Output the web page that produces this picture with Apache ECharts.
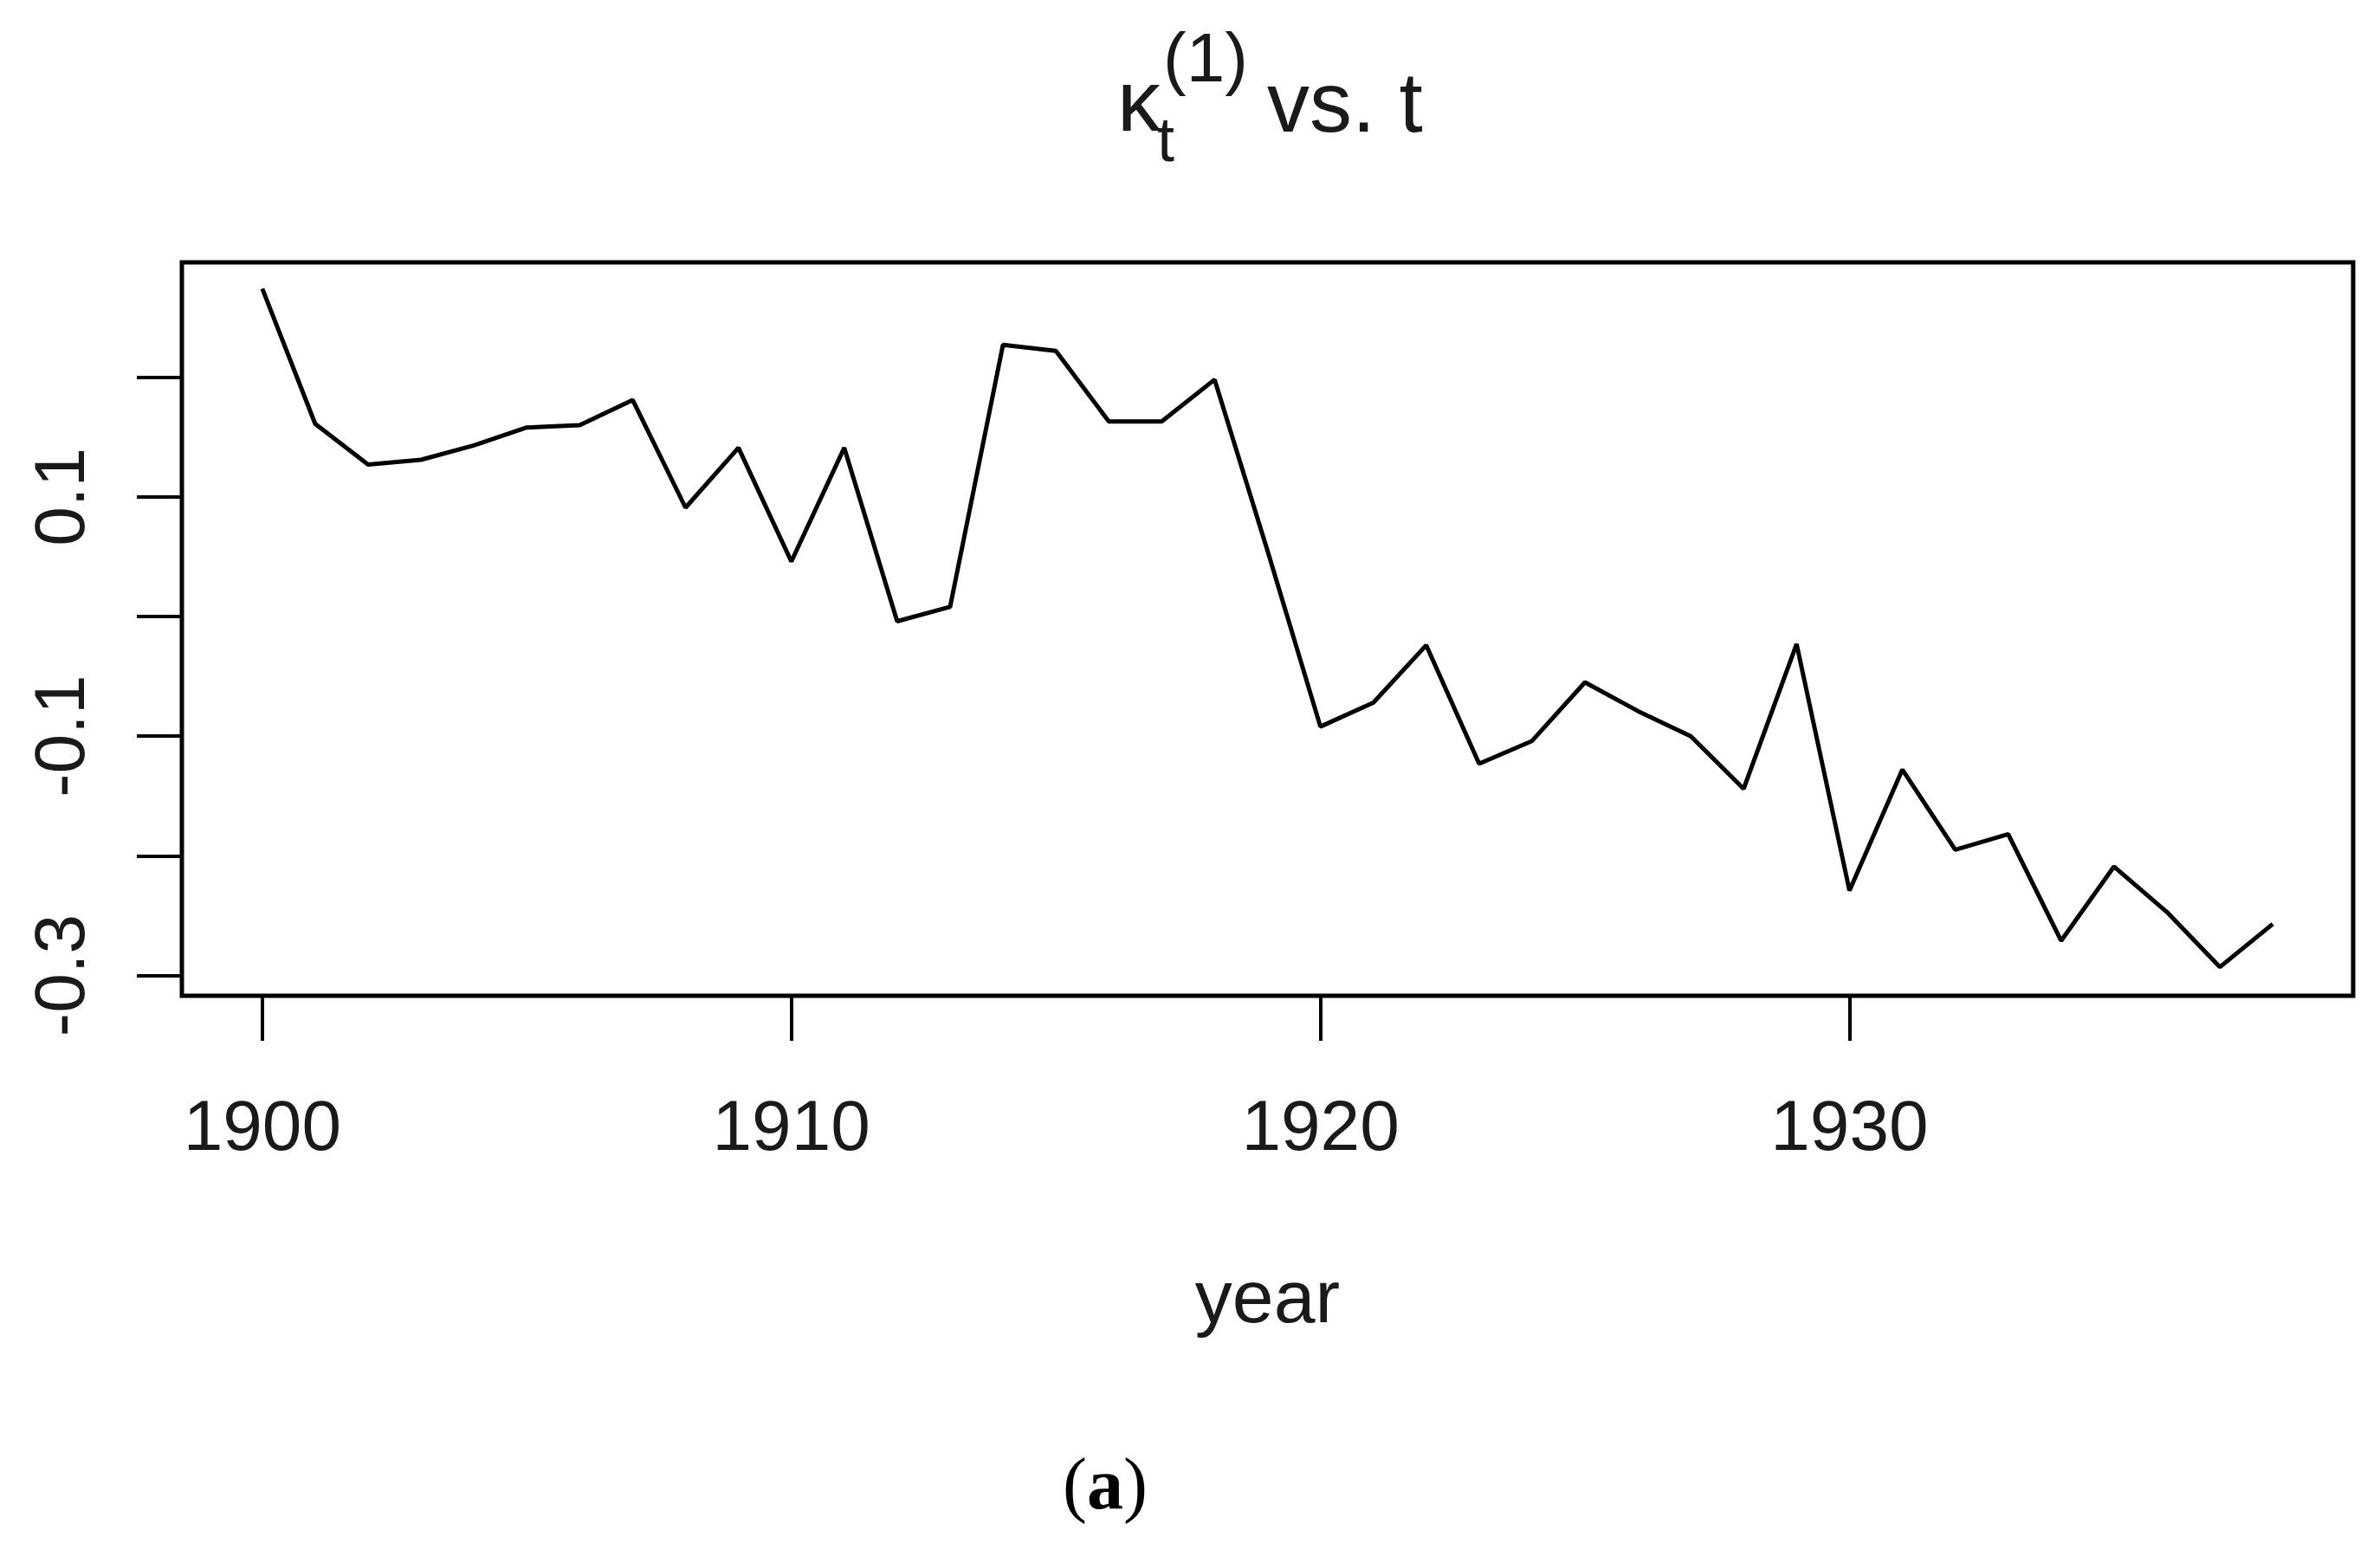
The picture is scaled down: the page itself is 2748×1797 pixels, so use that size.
<!DOCTYPE html>
<html>
<head>
<meta charset="utf-8">
<script src="https://cdn.jsdelivr.net/npm/echarts@6/dist/echarts.min.js"></script>
<style>
  html, body { margin: 0; padding: 0; background: #ffffff; }
  #chart { width: 2748px; height: 1797px; }
</style>
</head>
<body>
<div id="chart"></div>
<script>
// ---- data ----
const years = [1900, 1901, 1902, 1903, 1904, 1905, 1906, 1907, 1908, 1909,
               1910, 1911, 1912, 1913, 1914, 1915, 1916, 1917, 1918, 1919,
               1920, 1921, 1922, 1923, 1924, 1925, 1926, 1927, 1928, 1929,
               1930, 1931, 1932, 1933, 1934, 1935, 1936, 1937, 1938];
const kappa = [0.274, 0.161, 0.127, 0.131, 0.143, 0.158, 0.160, 0.181, 0.091, 0.141,
               0.046, 0.141, -0.004, 0.008, 0.227, 0.222, 0.163, 0.163, 0.198, 0.055,
               -0.092, -0.072, -0.024, -0.123, -0.104, -0.055, -0.079, -0.100, -0.144, -0.023,
               -0.229, -0.128, -0.195, -0.182, -0.271, -0.209, -0.247, -0.293, -0.257];
const xTicks = [1900, 1910, 1920, 1930];
const yTicks = [-0.3, -0.2, -0.1, 0.0, 0.1, 0.2];
const yTickLabels = [-0.3, -0.1, 0.1];
const xName = 'year';

const textColor = '#1a1a1a';
const sans = '"Liberation Sans", Arial, sans-serif';
const serif = '"Liberation Serif", "Times New Roman", serif';

const chart = echarts.init(document.getElementById('chart'));
chart.setOption({
  backgroundColor: '#ffffff',
  animation: false,
  grid: {
    left: 210, right: 31, top: 303, bottom: 647,
    show: true, borderColor: '#000', borderWidth: 5, backgroundColor: 'transparent'
  },
  xAxis: {
    type: 'value',
    min: 1898.48, max: 1939.52,
    axisLine: { show: false, onZero: false },
    splitLine: { show: false },
    axisTick: { show: true, length: 52, lineStyle: { color: '#000', width: 4 }, customValues: xTicks },
    axisLabel: { customValues: xTicks, color: textColor, fontSize: 82, fontFamily: sans, margin: 114,
                 formatter: v => String(v) },
    name: xName, nameLocation: 'middle', nameGap: 310,
    nameTextStyle: { color: textColor, fontSize: 86, fontFamily: sans }
  },
  yAxis: {
    type: 'value',
    min: -0.317, max: 0.296,
    axisLine: { show: false, onZero: false },
    splitLine: { show: false },
    axisTick: { show: true, length: 52, lineStyle: { color: '#000', width: 4 }, customValues: yTicks },
    axisLabel: { customValues: yTickLabels, rotate: 90, color: textColor, fontSize: 82, fontFamily: sans,
                 margin: 95, formatter: v => v.toFixed(1) }
  },
  series: [{
    type: 'line',
    data: years.map((y, i) => [y, kappa[i]]),
    showSymbol: false,
    symbol: 'none',
    smooth: false,
    lineStyle: { color: '#000', width: 5 },
    silent: true
  }],
  graphic: [
    { type: 'text', x: 1290, y: 123,
      style: { text: 'κ', font: '100px ' + sans, fill: textColor, align: 'left', verticalAlign: 'middle' } },
    { type: 'text', x: 1336, y: 166,
      style: { text: 't', font: '72px ' + sans, fill: textColor, align: 'left', verticalAlign: 'middle' } },
    { type: 'text', x: 1343, y: 72,
      style: { text: '(1)', font: '80px ' + sans, fill: textColor, align: 'left', verticalAlign: 'middle' } },
    { type: 'text', x: 1463, y: 125,
      style: { text: 'vs. t', font: '98px ' + sans, fill: textColor, align: 'left', verticalAlign: 'middle' } },
    { type: 'text', x: 1276, y: 1720,
      style: {
        text: '{n|(}{b|a}{n|)}', align: 'center', verticalAlign: 'middle',
        rich: {
          n: { fontFamily: serif, fontSize: 84, fill: '#000' },
          b: { fontFamily: serif, fontSize: 84, fontWeight: 'bold', fill: '#000' }
        }
      } }
  ]
});
</script>
</body>
</html>
